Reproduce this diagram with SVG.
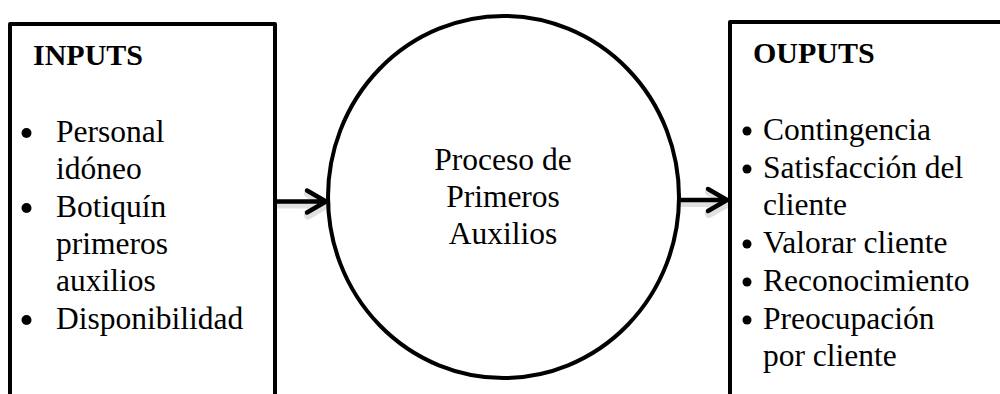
<svg xmlns="http://www.w3.org/2000/svg" width="1000" height="394" viewBox="0 0 1000 394">
  <rect width="1000" height="394" fill="#fff"/>

  <g id="inputs">
    <rect x="10" y="24" width="265" height="400" fill="#fff" stroke="#000" stroke-width="4" stroke-linejoin="round"/>
    <text x="33" y="65" font-family="Liberation Serif" font-weight="bold" font-size="30">INPUTS</text>
    <circle cx="26.5" cy="133" r="5" fill="#000"/>
    <circle cx="26.5" cy="208" r="5" fill="#000"/>
    <circle cx="26.5" cy="320" r="5" fill="#000"/>
    <text x="56" y="142" font-family="Times New Roman, serif" font-size="31.5">Personal</text>
    <text x="56" y="179" font-family="Times New Roman, serif" font-size="31.5">idóneo</text>
    <text x="56" y="217" font-family="Times New Roman, serif" font-size="31.5">Botiquín</text>
    <text x="56" y="254" font-family="Times New Roman, serif" font-size="31.5">primeros</text>
    <text x="56" y="291" font-family="Times New Roman, serif" font-size="31.5">auxilios</text>
    <text x="56" y="329" font-family="Times New Roman, serif" font-size="31.5">Disponibilidad</text>
  </g>

  <g id="proceso">
    <ellipse cx="503.5" cy="197" rx="175.5" ry="181" fill="#fff" stroke="#000" stroke-width="4"/>
    <text x="503" y="170" font-family="Times New Roman, serif" font-size="31.5" text-anchor="middle">Proceso de</text>
    <text x="503" y="207" font-family="Times New Roman, serif" font-size="31.5" text-anchor="middle">Primeros</text>
    <text x="503" y="244" font-family="Times New Roman, serif" font-size="31.5" text-anchor="middle">Auxilios</text>
  </g>

  <g id="outputs">
    <rect x="730" y="22" width="300" height="400" fill="#fff" stroke="#000" stroke-width="4" stroke-linejoin="round"/>
    <text x="753" y="63" font-family="Liberation Serif" font-weight="bold" font-size="30">OUPUTS</text>
    <circle cx="747" cy="131" r="4.5" fill="#000"/>
    <circle cx="747" cy="169" r="4.5" fill="#000"/>
    <circle cx="747" cy="244" r="4.5" fill="#000"/>
    <circle cx="747" cy="282" r="4.5" fill="#000"/>
    <circle cx="747" cy="320" r="4.5" fill="#000"/>
    <text x="763" y="140" font-family="Times New Roman, serif" font-size="31.5">Contingencia</text>
    <text x="763" y="178" font-family="Times New Roman, serif" font-size="31.5">Satisfacción del</text>
    <text x="763" y="215" font-family="Times New Roman, serif" font-size="31.5">cliente</text>
    <text x="763" y="253" font-family="Times New Roman, serif" font-size="31.5">Valorar cliente</text>
    <text x="763" y="291" font-family="Times New Roman, serif" font-size="31.5">Reconocimiento</text>
    <text x="763" y="329" font-family="Times New Roman, serif" font-size="31.5">Preocupación</text>
    <text x="763" y="366" font-family="Times New Roman, serif" font-size="31.5">por cliente</text>
  </g>

  <g id="connectors" fill="none" stroke-linecap="round" stroke-linejoin="round">
    <path d="M278 204.5 H326 M308 193.5 L327 204.5 L308 215.5" stroke="#000" stroke-opacity="0.12" stroke-width="8"/>
    <path d="M682 203 H728 M709 192 L728 203 L709 214" stroke="#000" stroke-opacity="0.12" stroke-width="8"/>
    <path d="M277 201.5 H325 M307 190.5 L326 201.5 L307 212.5" stroke="#000" stroke-width="4.5"/>
    <path d="M681 200 H727 M708 189 L727 200 L708 211" stroke="#000" stroke-width="4.5"/>
  </g>
</svg>
